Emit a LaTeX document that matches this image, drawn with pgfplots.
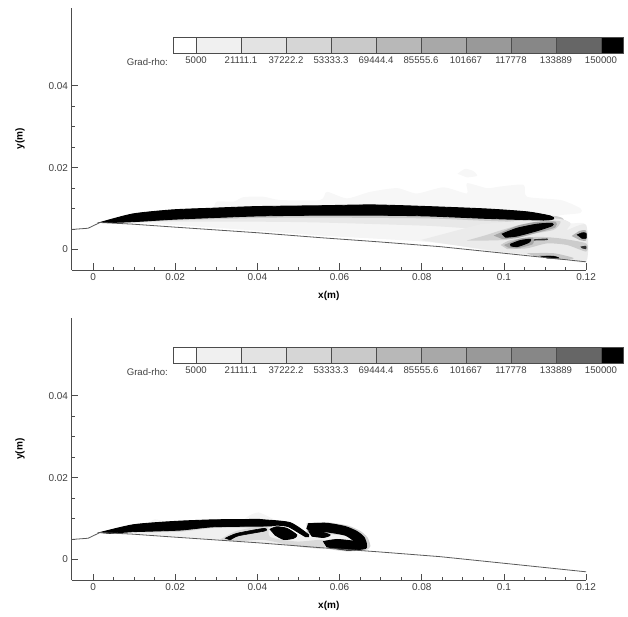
\documentclass[border=0pt]{standalone}
\usepackage{fontspec}
\setmainfont{Liberation Sans}
\usepackage{pgfplots}
\pgfplotsset{compat=1.18}
\definecolor{axc}{gray}{0.3}
\definecolor{txt}{gray}{0.25}
\pgfplotsset{
  panel/.style={
    anchor=south west, scale only axis, width=514.6pt, height=262pt,
    xmin=-0.00524, xmax=0.12, ymin=-0.005, ymax=0.059,
    axis lines*=left, axis line style={axc,line width=0.9pt,-},
    tick align=inside, tick style={axc,line width=0.7pt},
    major tick length=6.5pt, minor tick length=3pt,
    scaled ticks=false,
    xtick={0,0.02,0.04,0.06,0.08,0.1,0.12},
    xticklabels={0,0.02,0.04,0.06,0.08,0.1,0.12},
    ytick={0,0.02,0.04}, yticklabels={0,0.02,0.04},
    minor x tick num=3, minor y tick num=3,
    ticklabel style={font=\fontsize{10}{12}\selectfont,text=txt},
    xlabel={\textbf{x(m)}}, ylabel={\textbf{y(m)}},
    label style={font=\fontsize{10}{12}\selectfont,text=black},
    xlabel style={yshift=-4pt}, ylabel style={yshift=17pt},
    clip=false,
  },
  cbar/.style={
    anchor=south west, scale only axis, width=450pt, height=16pt,
    xmin=-3235, xmax=157876, ymin=0, ymax=1,
    axis line style={draw=none}, ytick=\empty,
    scaled ticks=false,
    xtick={5000,21111.1,37222.2,53333.3,69444.4,85555.6,101667,117778,133889,150000},
    xticklabels={5000,21111.1,37222.2,53333.3,69444.4,85555.6,101667,117778,133889,150000},
    tick style={draw=none},
    ticklabel style={font=\fontsize{9.6}{12}\selectfont,text=txt},
    clip=false,
  },
  seg/.style={fill=#1,draw=axc,line width=0.7pt},
  g/.style={fill=#1,draw=none,smooth,tension=0.4},
  k/.style={fill=black,draw=black,line width=#1,smooth,tension=0.4},
  k/.default=0.9pt,
}
\newcommand\colorbar[1]{%
\begin{axis}[cbar,at={(173pt,#1)}]
\addplot[seg=white] coordinates {(-3235,0)(5000,0)(5000,1)(-3235,1)} -- cycle;
\addplot[seg={black!6}] coordinates {(5000,0)(21111.1,0)(21111.1,1)(5000,1)} -- cycle;
\addplot[seg={black!11}] coordinates {(21111.1,0)(37222.2,0)(37222.2,1)(21111.1,1)} -- cycle;
\addplot[seg={black!16}] coordinates {(37222.2,0)(53333.3,0)(53333.3,1)(37222.2,1)} -- cycle;
\addplot[seg={black!21}] coordinates {(53333.3,0)(69444.4,0)(69444.4,1)(53333.3,1)} -- cycle;
\addplot[seg={black!28}] coordinates {(69444.4,0)(85555.6,0)(85555.6,1)(69444.4,1)} -- cycle;
\addplot[seg={black!34}] coordinates {(85555.6,0)(101667,0)(101667,1)(85555.6,1)} -- cycle;
\addplot[seg={black!40}] coordinates {(101667,0)(117778,0)(117778,1)(101667,1)} -- cycle;
\addplot[seg={black!47}] coordinates {(117778,0)(133889,0)(133889,1)(117778,1)} -- cycle;
\addplot[seg={black!60}] coordinates {(133889,0)(150000,0)(150000,1)(133889,1)} -- cycle;
\addplot[seg=black] coordinates {(150000,0)(157876,0)(157876,1)(150000,1)} -- cycle;
\node[font=\fontsize{9.6}{12}\selectfont,text=txt,anchor=east] at (axis cs:-3800,-0.56) {Grad-rho:};
\end{axis}}
\newcommand\wall{%
\addplot[color=black!65,line width=0.8pt] coordinates {(-0.00524,0.0049)(-0.0012,0.0052)(0.0017,0.0066)(0.0097,0.0062)(0.0195,0.0055)(0.04,0.0041)(0.0553,0.0029)(0.0692,0.0019)(0.0845,0.0007)(0.0999,-0.0009)(0.12,-0.003)};}
\begin{document}
\begin{tikzpicture}[x=1pt,y=1pt]
\path[use as bounding box] (0,0) rectangle (628,616);
% ---------- top panel
\begin{axis}[panel,at={(71.5pt,346pt)}]
% faint cloud
\addplot[g={black!3}] coordinates {(0.0293,0.0098)(0.0301,0.0117)(0.0342,0.0117)(0.0366,0.0128)(0.0415,0.0129)(0.0455,0.0121)(0.0553,0.0121)(0.0569,0.0141)(0.0618,0.0125)(0.0675,0.0141)(0.074,0.015)(0.0788,0.0137)(0.0853,0.0152)(0.091,0.0137)(0.091,0.0162)(0.0959,0.015)(0.0991,0.0154)(0.1048,0.0158)(0.1056,0.0129)(0.1138,0.0121)(0.1186,0.0101)(0.1186,0.0089)(0.1138,0.0084)(0.1121,0.0075)};
\addplot[g={black!3}] coordinates {(0.0887,0.0185)(0.0905,0.0197)(0.0925,0.0192)(0.0935,0.018)(0.091,0.0176)};
% lower light bands
\addplot[g={black!4}] coordinates {(0.0041,0.0064)(0.0097,0.0066)(0.0195,0.006)(0.04,0.0046)(0.0553,0.0034)(0.068,0.0027)(0.0797,0.002)(0.0878,0.0011)(0.0999,-0.0009)(0.1125,-0.0019)(0.12,-0.003)(0.12,0.006)(0.1162,0.0064)(0.1121,0.0076)(0.0943,0.0078)(0.0553,0.0086)(0.0195,0.0076)};
\addplot[g={black!9}] coordinates {(0.0097,0.0068)(0.0195,0.0068)(0.04,0.0068)(0.0553,0.0066)(0.0814,0.0058)(0.096,0.005)(0.1121,0.006)(0.1162,0.0064)(0.1121,0.0078)(0.096,0.0078)(0.0553,0.0086)(0.0195,0.0076)};
\addplot[g={black!20}] coordinates {(0.0097,0.0066)(0.0195,0.0071)(0.04,0.0077)(0.0553,0.0078)(0.0814,0.0076)(0.096,0.007)(0.1096,0.0066)(0.1145,0.0072)(0.1121,0.0082)(0.096,0.008)(0.0553,0.0086)(0.0195,0.0076)};
% lower right region
\addplot[g={black!8}] coordinates {(0.0797,0.0023)(0.0878,0.0011)(0.0999,-0.0006)(0.1125,-0.0017)(0.12,-0.0028)(0.12,0.006)(0.1154,0.0048)(0.1162,0.0064)(0.1121,0.0076)(0.0943,0.0062)};
\addplot[g={black!18}] coordinates {(0.091,0.0022)(0.0959,0.0036)(0.0996,0.0048)(0.104,0.006)(0.1113,0.007)(0.1138,0.0068)(0.1121,0.0048)(0.1056,0.0036)(0.1008,0.0024)(0.0959,0.0022)};
\addplot[g={black!20}] coordinates {(0.0992,0.0011)(0.1016,0.0023)(0.1081,0.0031)(0.1138,0.0027)(0.12,0.0015)(0.12,-0.0005)(0.1154,0.0011)(0.1105,0.0015)(0.1056,0.0003)(0.1008,0.0001)};
\addplot[g={black!22}] coordinates {(0.1056,-0.0009)(0.1121,-0.0009)(0.117,-0.0021)(0.1138,-0.0025)(0.1073,-0.0016)};
\addplot[g={black!30}] coordinates {(0.1165,0.0033)(0.1185,0.0046)(0.12,0.0046)(0.12,0.0022)(0.1185,0.0023)};
\addplot[g={black!35}] coordinates {(0.0975,0.0034)(0.1032,0.0058)(0.1081,0.0068)(0.1125,0.0068)(0.1125,0.0054)(0.1081,0.0041)(0.1032,0.0028)(0.0995,0.0026)};
\addplot[g={black!35}] coordinates {(0.1,0.0011)(0.104,0.0027)(0.107,0.0029)(0.107,0.0013)(0.1032,0.0003)(0.101,0.0005)};
% black streaks
\addplot[k] coordinates {(0.0017,0.0066)(0.0097,0.0087)(0.0195,0.0097)(0.0292,0.0101)(0.04,0.0105)(0.0553,0.0107)(0.068,0.0109)(0.0814,0.0105)(0.096,0.0099)(0.1057,0.0092)(0.1113,0.0082)(0.1121,0.0075)(0.1096,0.0072)(0.096,0.0076)(0.0814,0.0082)(0.068,0.0084)(0.0553,0.0084)(0.04,0.0082)(0.0292,0.0078)(0.0195,0.0074)(0.0097,0.0068)(0.0041,0.0066)} -- cycle;
\addplot[k] coordinates {(0.0996,0.0038)(0.1032,0.0052)(0.1081,0.0062)(0.1117,0.0064)(0.1117,0.0058)(0.1081,0.0046)(0.1032,0.0033)(0.1004,0.003)} -- cycle;
\addplot[k] coordinates {(0.1016,0.0013)(0.104,0.0022)(0.1065,0.0025)(0.106,0.0017)(0.1032,0.0007)(0.1017,0.0009)} -- cycle;
\addplot[g={black!80}] coordinates {(0.1073,0.0025)(0.1105,0.0027)(0.1105,0.0023)(0.1073,0.0022)};
\addplot[k=0.4pt] coordinates {(0.1089,-0.0016)(0.1121,-0.0016)(0.1134,-0.0021)(0.1105,-0.0021)} -- cycle;
\addplot[k=0.4pt] coordinates {(0.1178,0.0036)(0.119,0.0041)(0.12,0.004)(0.12,0.0027)(0.119,0.0027)} -- cycle;
\addplot[g={black!80}] coordinates {(0.1186,0.0007)(0.12,0.0009)(0.12,0.0001)(0.119,0.0003)};
\wall
\end{axis}
\colorbar{563pt}
% ---------- bottom panel
\begin{axis}[panel,at={(71.5pt,36pt)}]
\addplot[g={black!4}] coordinates {(0.0366,0.0097)(0.0383,0.0109)(0.0403,0.0115)(0.0427,0.0105)(0.0447,0.0095)};
\addplot[g={black!4}] coordinates {(0.013,0.0085)(0.015,0.0098)(0.019,0.009)};
% light region under band
\addplot[g={black!6}] coordinates {(0.0098,0.0064)(0.0293,0.0079)(0.0427,0.0082)(0.0517,0.0056)(0.0594,0.0052)(0.0663,0.004)(0.0663,0.0021)(0.0553,0.0029)(0.04,0.0042)(0.03,0.0049)(0.02,0.0056)};
\addplot[g={black!15}] coordinates {(0.0309,0.0049)(0.035,0.007)(0.0423,0.0082)(0.0431,0.0055)(0.0496,0.0044)(0.0561,0.0048)(0.0561,0.0027)(0.0496,0.0032)(0.0415,0.0048)(0.0358,0.0044)};
% halos
\addplot[g={black!18}] coordinates {(0.01,0.0066)(0.0212,0.0068)(0.0293,0.0077)(0.0427,0.0079)(0.0427,0.009)(0.0293,0.009)};
\addplot[g={black!18}] coordinates {(0.052,0.0089)(0.0569,0.0091)(0.062,0.0083)(0.065,0.007)(0.0668,0.0054)(0.0675,0.0033)(0.0665,0.0024)(0.0618,0.002)(0.0569,0.0028)(0.06,0.005)(0.052,0.006)};
% white gap inside
\addplot[g={black!5}] coordinates {(0.0575,0.0062)(0.0614,0.0058)(0.0635,0.0045)(0.0594,0.0051)(0.0561,0.0047)};
% black features
\addplot[k] coordinates {(0.0017,0.0066)(0.0098,0.0085)(0.0196,0.0093)(0.0293,0.0097)(0.0399,0.0098)(0.0415,0.0097)(0.048,0.009)(0.0525,0.006)(0.0517,0.0056)(0.0476,0.008)(0.0447,0.0084)(0.0427,0.0082)(0.0293,0.008)(0.0212,0.0072)(0.0098,0.0068)(0.0041,0.0064)} -- cycle;
\addplot[k] coordinates {(0.0431,0.0074)(0.0447,0.008)(0.0472,0.0076)(0.0496,0.006)(0.0488,0.0052)(0.0464,0.0049)(0.0443,0.006)} -- cycle;
\addplot[k=1.4pt] coordinates {(0.0525,0.0087)(0.0569,0.0088)(0.0614,0.008)(0.0642,0.0068)(0.0659,0.0054)(0.0665,0.0035)(0.065,0.0031)(0.0638,0.0044)(0.0614,0.006)(0.0569,0.0068)(0.0533,0.007)(0.0521,0.0076)} -- cycle;
\addplot[k] coordinates {(0.0525,0.007)(0.0553,0.0068)(0.0577,0.006)(0.0561,0.0054)(0.0533,0.0057)} -- cycle;
\addplot[k] coordinates {(0.0561,0.0044)(0.0594,0.0049)(0.0642,0.0044)(0.0663,0.004)(0.0663,0.0027)(0.0618,0.0023)(0.0569,0.0031)} -- cycle;
\addplot[k=0.6pt] coordinates {(0.0322,0.0052)(0.035,0.0064)(0.0415,0.0076)(0.0419,0.007)(0.0354,0.0058)(0.0334,0.0048)} -- cycle;
\wall
\end{axis}
\colorbar{253pt}
\end{tikzpicture}
\end{document}
